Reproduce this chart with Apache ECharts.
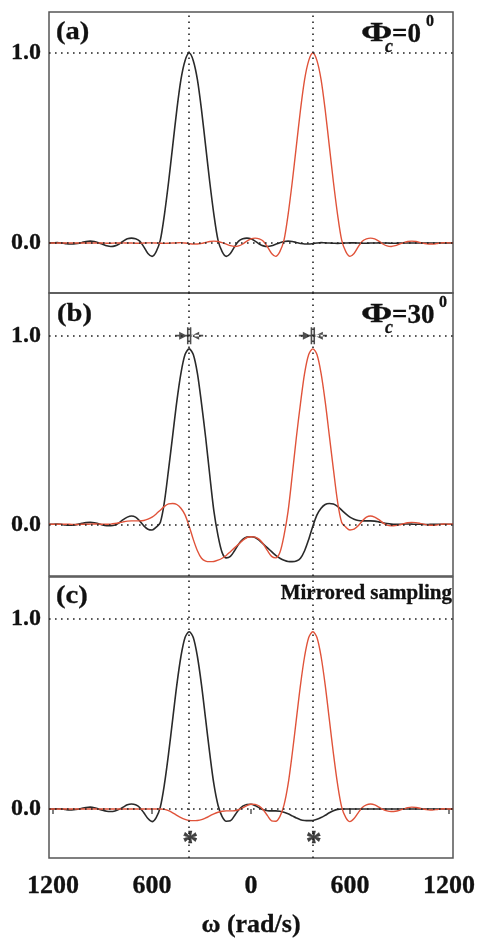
<!DOCTYPE html>
<html><head><meta charset="utf-8">
<script src="https://cdn.jsdelivr.net/npm/echarts@6/dist/echarts.min.js"></script>
<style>html,body{margin:0;padding:0;background:#fff}#c{width:482px;height:939px}</style>
</head><body><div id="c"></div>
<script>
// angular frequency grid (rad/s)
const omega = [-1225,-1200,-1175,-1150,-1125,-1100,-1075,-1050,-1025,-1000,
-975,-950,-925,-900,-875,-850,-825,-800,-775,-750,
-725,-700,-675,-650,-625,-600,-575,-550,-525,-500,
-475,-450,-425,-400,-375,-350,-325,-300,-275,-250,
-225,-200,-175,-150,-125,-100,-75,-50,-25,0,
25,50,75,100,125,150,175,200,225,250,
275,300,325,350,375,400,425,450,475,500,
525,550,575,600,625,650,675,700,725,750,
775,800,825,850,875,900,925,950,975,1000,
1025,1050,1075,1100,1125,1150,1175,1200,1225];

// (a) Phi_c = 0
const blackA = [0,0.001,0.002,0,-0.003,-0.005,-0.005,-0.002,0.003,0.008,
0.01,0.008,0.002,-0.006,-0.014,-0.018,-0.015,-0.005,0.01,0.022,
0.026,0.022,0.01,-0.02,-0.055,-0.07,-0.045,0.015,0.15,0.32,
0.51,0.70,0.86,0.96,1.0,0.96,0.86,0.70,0.51,0.32,
0.15,0.015,-0.045,-0.07,-0.055,-0.02,0.01,0.022,0.026,0.022,
0.01,-0.005,-0.015,-0.018,-0.014,-0.006,0.002,0.008,0.01,0.008,
0.003,-0.002,-0.005,-0.005,-0.003,0,0.002,0.001,0,-0.001,
-0.002,-0.001,0,0.001,0.001,0,-0.001,-0.001,0,0,
0.001,0,0,-0.001,-0.001,0,0,0,0,0,
0,0,0,0,0,0,0,0,0];
const redA = [0,0,0,0,0,0,0,0,0,
0,0,0,0,0,-0.001,-0.001,0,0,0.001,
0,0,-0.001,-0.001,0,0.001,0.001,0,-0.001,-0.002,
-0.001,0,0.001,0.002,0,-0.003,-0.005,-0.005,-0.002,0.003,
0.008,0.01,0.008,0.002,-0.006,-0.014,-0.018,-0.015,-0.005,0.01,
0.022,0.026,0.022,0.01,-0.02,-0.055,-0.07,-0.045,0.015,0.15,
0.32,0.51,0.70,0.86,0.96,1.0,0.96,0.86,0.70,0.51,
0.32,0.15,0.015,-0.045,-0.07,-0.055,-0.02,0.01,0.022,0.026,
0.022,0.01,-0.005,-0.015,-0.018,-0.014,-0.006,0.002,0.008,0.01,
0.008,0.003,-0.002,-0.005,-0.005,-0.003,0,0.002,0.001,0];

// (b) Phi_c = 30
const blackB = [0,0,0.002,0,-0.004,-0.005,-0.004,0,0.005,0.009,
0.01,0.008,0.003,-0.003,-0.007,-0.008,-0.004,0.008,0.025,0.038,
0.044,0.038,0.018,-0.008,-0.026,-0.03,-0.015,0.01,0.12,0.29,
0.47,0.65,0.80,0.90,0.93,0.90,0.80,0.64,0.46,0.26,
0.07,-0.06,-0.15,-0.178,-0.17,-0.14,-0.105,-0.08,-0.068,-0.066,
-0.07,-0.085,-0.105,-0.125,-0.145,-0.165,-0.18,-0.19,-0.197,-0.198,
-0.195,-0.18,-0.14,-0.08,-0.01,0.05,0.085,0.105,0.11,0.108,
0.095,0.075,0.055,0.038,0.027,0.02,0.018,0.018,0.018,0.017,
0.013,0.008,0.004,0.001,0,0,0.001,0.002,0.001,0,
0,-0.001,-0.001,0,0,0,0,0,0];
const redB = [0,0,0,0,0,0,-0.001,-0.001,0,
0,0.001,0.002,0.001,0,0,0.001,0.004,0.008,0.013,
0.017,0.018,0.018,0.018,0.02,0.027,0.038,0.055,0.075,0.095,
0.108,0.11,0.105,0.085,0.05,-0.01,-0.08,-0.14,-0.18,-0.195,
-0.198,-0.197,-0.19,-0.18,-0.165,-0.145,-0.125,-0.105,-0.085,-0.07,
-0.066,-0.068,-0.08,-0.105,-0.14,-0.17,-0.178,-0.15,-0.06,0.07,
0.26,0.46,0.64,0.80,0.90,0.93,0.90,0.80,0.65,0.47,
0.29,0.12,0.01,-0.015,-0.03,-0.026,-0.008,0.018,0.038,0.044,
0.038,0.025,0.008,-0.004,-0.008,-0.007,-0.003,0.003,0.008,0.01,
0.009,0.005,0,-0.004,-0.005,-0.004,0,0.002,0,0];

// (c) mirrored sampling
const blackC = [0,0,0.001,0,-0.003,-0.005,-0.004,-0.001,0.004,0.008,
0.01,0.007,0,-0.007,-0.012,-0.013,-0.01,-0.002,0.01,0.022,
0.026,0.022,0.008,-0.02,-0.05,-0.066,-0.045,0.01,0.13,0.29,
0.47,0.65,0.80,0.90,0.93,0.90,0.80,0.65,0.47,0.29,
0.13,0.02,-0.04,-0.064,-0.062,-0.035,-0.005,0.015,0.024,0.025,
0.018,0.006,-0.004,-0.009,-0.01,-0.01,-0.012,-0.017,-0.025,-0.036,
-0.047,-0.056,-0.06,-0.061,-0.06,-0.054,-0.045,-0.033,-0.02,-0.009,
-0.002,0,0,0,0,0,0,0,0,0,
0,0,0,0,0,0,0,0,0,0,
0,0,0,0,0,0,0,0,0];
const redC = [0,0,0,0,0,0,0,0,0,
0,0,0,0,0,0,0,0,0,0,
0,0,0,0,0,0,0,0,0,-0.002,
-0.009,-0.02,-0.033,-0.045,-0.054,-0.06,-0.061,-0.06,-0.056,-0.047,
-0.036,-0.025,-0.017,-0.012,-0.01,-0.01,-0.009,-0.004,0.006,0.018,
0.025,0.024,0.015,-0.005,-0.035,-0.062,-0.064,-0.04,0.02,0.13,
0.29,0.47,0.65,0.80,0.90,0.93,0.90,0.80,0.65,0.47,
0.29,0.13,0.01,-0.045,-0.066,-0.05,-0.02,0.008,0.022,0.026,
0.022,0.01,-0.002,-0.01,-0.013,-0.012,-0.007,0,0.007,0.01,
0.008,0.004,-0.001,-0.004,-0.005,-0.003,0,0.001,0,0];

const xTicks = [-1200,-600,0,600,1200];
const yTicks = [0,1];
const peakOmega = [-375,375];
const crossLevel = 1.0;     // markers in panel (b)
const starLevel = -0.14;    // asterisks in panel (c)
const panelLabels = ['(a)','(b)','(c)'];

const SERIF = '"Liberation Serif","Times New Roman",serif';
const BLACK = '#2a2a2a', RED = '#e0533a', AX = '#555', INK = '#111';
const grids = [
  {left:49,right:29,top:12,height:281},
  {left:49,right:29,top:293,height:283},
  {left:49,right:29,top:577,height:281}
];
const yRanges = [[-0.263,1.216],[-0.274,1.226],[-0.257,1.217]];
const sets = [[blackA,redA],[blackB,redB],[blackC,redC]];

const boldText = (size)=>({fontFamily:SERIF, fontWeight:'bold', fontSize:size, color:INK,
  textBorderColor:INK, textBorderWidth:0.3});
const xAxes = grids.map((g,i)=>({
  type:'value', gridIndex:i, min:-1225, max:1225,
  axisLine:{show:false}, splitLine:{show:false},
  axisTick:{show:i===2, customValues:xTicks, length:5, inside:false, lineStyle:{color:AX,width:1.5}},
  axisLabel:Object.assign({show:i===2, customValues:xTicks, formatter:v=>String(Math.abs(v)), margin:15}, boldText(26)),
  name: i===2 ? 'ω (rad/s)' : '', nameLocation:'middle', nameGap:54,
  nameTextStyle:boldText(26)
}));
const yAxes = grids.map((g,i)=>({
  type:'value', gridIndex:i, min:yRanges[i][0], max:yRanges[i][1],
  axisLine:{show:false}, splitLine:{show:false}, axisTick:{show:false},
  axisLabel:Object.assign({customValues:yTicks, formatter:v=>v.toFixed(1), margin:8}, boldText(24))
}));

const dotted = {type:[1.6,4.4], color:'#222', width:1.6};
const series = [];
sets.forEach((pair,i)=>{
  series.push({
    type:'line', xAxisIndex:i, yAxisIndex:i, data:omega.map((w,k)=>[w,pair[0][k]]),
    showSymbol:false, smooth:0.3, lineStyle:{color:BLACK,width:1.6}, z:3,
    markLine:{silent:true, symbol:'none', label:{show:false}, lineStyle:dotted,
      data:[{yAxis:yTicks[0]},{yAxis:yTicks[1]},{xAxis:peakOmega[0]},{xAxis:peakOmega[1]}]}
  });
  series.push({
    type:'line', xAxisIndex:i, yAxisIndex:i, data:omega.map((w,k)=>[w,pair[1][k]]),
    showSymbol:false, smooth:0.3, lineStyle:{color:RED,width:1.4}, z:4
  });
});
// cross markers (panel b)
series.push({
  type:'scatter', xAxisIndex:1, yAxisIndex:1, z:6,
  data:peakOmega.map(w=>[w,crossLevel]),
  symbol:'path://M0,7.6L28,7.6L28,9.4L0,9.4Z M4,4.5L12,8.5L4,12.5Z M24,4.5L16,8.5L24,12.5Z M11.8,0L13.4,0L13.4,17L11.8,17Z M14.6,0L16.2,0L16.2,17L14.6,17Z',
  symbolSize:[28,17], itemStyle:{color:'#222'}
});
// asterisks (panel c)
series.push({
  type:'scatter', xAxisIndex:2, yAxisIndex:2, z:6,
  data:peakOmega.map(w=>[w,starLevel]),
  symbol:'circle', symbolSize:1, itemStyle:{color:'rgba(0,0,0,0)'},
  label:Object.assign({show:true, position:'inside', formatter:'*', offset:[1,8]}, boldText(32))
});

const txt = (x,y,text,size,extra,sx)=>({type:'text', x, y, scaleX:sx||1, style:Object.assign({
  text, font:`bold ${size}px ${SERIF}`, fill:INK, stroke:INK, lineWidth:0.3, textVerticalAlign:'middle'}, extra||{})});
const graphic = [
  txt(56,32,panelLabels[0],26,null,1.1), txt(57,314,panelLabels[1],26,null,1.1), txt(56,596,panelLabels[2],26,null,1.1),
  // Phi_c = 0^0
  txt(361,34,'Φ',28,null,1.35), txt(385,47,'c',18,{font:`italic bold 18px ${SERIF}`}),
  txt(392,35,'=0',27), txt(426,22,'0',16),
  // Phi_c = 30^0
  txt(361,315,'Φ',28,null,1.35), txt(385,328,'c',18,{font:`italic bold 18px ${SERIF}`}),
  txt(392,316,'=30',27), txt(439,303,'0',16),
  txt(452,594,'Mirrored sampling',20,{textAlign:'right'},1.05)
];

const chart = echarts.init(document.getElementById('c'), null, {renderer:'canvas'});
chart.setOption({
  animation:false, backgroundColor:'#fff',
  grid: grids.map(g=>Object.assign({show:true, borderColor:AX, borderWidth:1.5, backgroundColor:'transparent', outerBoundsMode:'none'}, g)),
  xAxis:xAxes, yAxis:yAxes, series, graphic
});
</script></body></html>
